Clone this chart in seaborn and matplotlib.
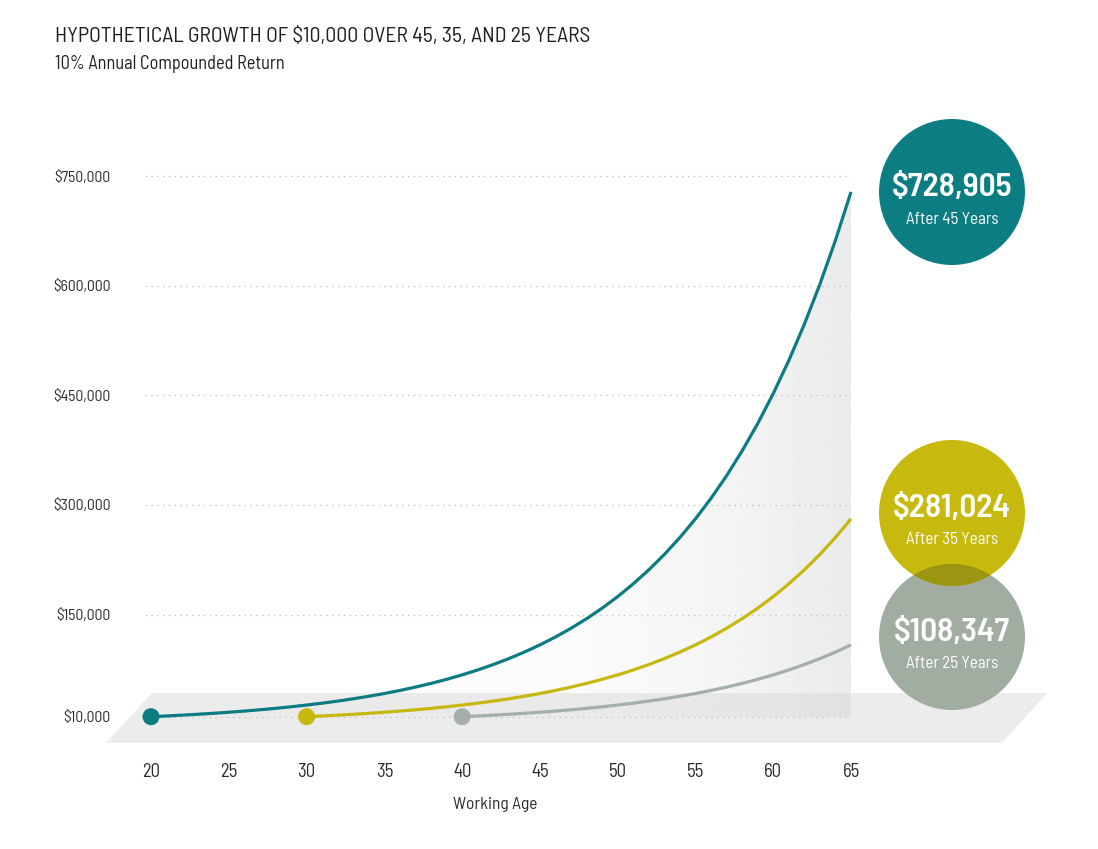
import numpy as np
import pandas as pd
import matplotlib
matplotlib.use("Agg")
import matplotlib.pyplot as plt
from matplotlib.patches import Polygon, Circle
import seaborn as sns

# hypothetical value of $10,000 at each working age (10% a year)
ages_45yr = list(range(20, 66))
values_45yr = [10000, 11000, 12100, 13310, 14641, 16105, 17716, 19487, 21436, 23579,
               25937, 28531, 31384, 34523, 37975, 41772, 45950, 50545, 55599, 61159,
               67275, 74002, 81403, 89543, 98497, 108347, 119182, 131100, 144210, 158631,
               174494, 191943, 211138, 232252, 255477, 281024, 309127, 340039, 374043, 411448,
               452593, 497852, 547637, 602401, 662641, 728905]
ages_35yr = list(range(30, 66))
values_35yr = [10000, 11000, 12100, 13310, 14641, 16105, 17716, 19487, 21436, 23579,
               25937, 28531, 31384, 34523, 37975, 41772, 45950, 50545, 55599, 61159,
               67275, 74002, 81403, 89543, 98497, 108347, 119182, 131100, 144210, 158631,
               174494, 191943, 211138, 232252, 255477, 281024]
ages_25yr = list(range(40, 66))
values_25yr = [10000, 11000, 12100, 13310, 14641, 16105, 17716, 19487, 21436, 23579,
               25937, 28531, 31384, 34523, 37975, 41772, 45950, 50545, 55599, 61159,
               67275, 74002, 81403, 89543, 98497, 108347]

series_names = ["45 Years", "35 Years", "25 Years"]
end_labels = ["$728,905", "$281,024", "$108,347"]
end_captions = ["After 45 Years", "After 35 Years", "After 25 Years"]
y_ticks = [10000, 150000, 300000, 450000, 600000, 750000]
y_tick_labels = ["$10,000", "$150,000", "$300,000", "$450,000", "$600,000", "$750,000"]
x_ticks = [20, 25, 30, 35, 40, 45, 50, 55, 60, 65]

teal = "#0d7c82"
yellow = "#c7b80f"
sage = "#a4b0a7"
colors = [teal, yellow, sage]
circle_colors = ["#0c7d83", "#c8b90f", "#a1ada1"]

df = pd.concat([
    pd.DataFrame({"Age": ages_45yr, "Value": values_45yr, "Series": series_names[0]}),
    pd.DataFrame({"Age": ages_35yr, "Value": values_35yr, "Series": series_names[1]}),
    pd.DataFrame({"Age": ages_25yr, "Value": values_25yr, "Series": series_names[2]}),
])
starts = df.groupby("Series", sort=False).first().reset_index()

sns.set_theme(style="white")
narrow = ["Barlow Semi Condensed", "DejaVu Sans"]
plt.rcParams["font.family"] = narrow

W, H = 1098, 849
fig = plt.figure(figsize=(W / 100, H / 100), dpi=100)

# background layer in pixel units: floor, circles
bg = fig.add_axes([0, 0, 1, 1], zorder=0)
bg.set_xlim(0, W)
bg.set_ylim(H, 0)
bg.axis("off")
bg.add_patch(Polygon([(106, 743), (152, 693), (1047, 693), (1002, 743)],
                     closed=True, facecolor="#ececec", edgecolor="none"))

# main chart
ax = fig.add_axes([151 / W, (H - 724) / H, 700 / W, 547.5 / H], zorder=1)
ax.patch.set_alpha(0)
ax.set_xlim(20, 65)
ax.set_ylim(0, 750000)
sns.despine(ax=ax, left=True, bottom=True)

# dotted grid
ax.hlines(y_ticks, 19.6, 65, colors="#c4c4c4", linestyles=(0, (1, 3.2)),
          linewidth=1, clip_on=False, zorder=1)

# shaded wall under the 45 year curve
grad = np.clip((np.linspace(20, 65, 400) - 40) / 25, 0, 1) ** 2
img = np.zeros((2, 400, 4))
img[..., :3] = np.array([213, 216, 214]) / 255
img[..., 3] = 0.06 + grad * 0.44
im = ax.imshow(img, extent=[20, 65, 0, 760000], aspect="auto", origin="lower",
               zorder=0.5, interpolation="bilinear")
wall = Polygon(list(zip(ages_45yr, values_45yr)) + [(65, 10000), (20, 10000)],
               closed=True, transform=ax.transData)
im.set_clip_path(wall)

sns.lineplot(data=df, x="Age", y="Value", hue="Series", palette=colors,
             linewidth=2.3, legend=False, ax=ax, zorder=3)
sns.scatterplot(data=starts, x="Age", y="Value", hue="Series", palette=colors,
                s=150, edgecolor="none", legend=False, ax=ax, zorder=4, clip_on=False)
for ln in ax.lines:
    ln.set_clip_on(False)
    ln.set_solid_capstyle("butt")

ax.set_yticks(y_ticks)
ax.set_yticklabels(y_tick_labels)
ax.set_xticks(x_ticks)
ax.set_xticklabels([str(t) for t in x_ticks])
ax.tick_params(axis="y", length=0, pad=29, labelsize=11.2, labelcolor="#2b2b2b")
ax.tick_params(axis="x", length=0, pad=28, labelsize=13.5, labelcolor="#2b2b2b")
ax.set_xlabel("")
ax.set_ylabel("")

fig.text(495 / W, 1 - 805 / H, "Working Age", ha="center", va="center",
         fontsize=12.5, color="#2b2b2b")

# title block
fig.text(55 / W, 1 - 37 / H, "HYPOTHETICAL GROWTH OF $10,000 OVER 45, 35, AND 25 YEARS",
         ha="left", va="center", fontsize=15.6, color="#231f20")
fig.text(55 / W, 1 - 64 / H, "10% Annual Compounded Return",
         ha="left", va="center", fontsize=13.2, color="#231f20")

# end-value circles
centers = [(952, 192), (952, 513), (952, 637)]
r = 73
bg.add_patch(Circle(centers[2], r, facecolor=circle_colors[2], edgecolor="none", zorder=2))
bg.add_patch(Circle(centers[0], r, facecolor=circle_colors[0], edgecolor="none", zorder=2))
bg.add_patch(Circle(centers[1], r, facecolor=circle_colors[1], edgecolor="none", zorder=2))
lens = Circle(centers[1], r, facecolor="#9c9512", edgecolor="none", zorder=3)
bg.add_patch(lens)
lens.set_clip_path(Circle(centers[2], r, transform=bg.transData))

for (cx, cy), big, small in zip(centers, end_labels, end_captions):
    bg.text(cx, cy - 5, big, ha="center", va="center", fontsize=24,
            fontweight="semibold", color="white", zorder=5)
    bg.text(cx, cy + 27, small, ha="center", va="center", fontsize=12.2,
            color="white", zorder=5)

fig.savefig("out.png", dpi=100)
